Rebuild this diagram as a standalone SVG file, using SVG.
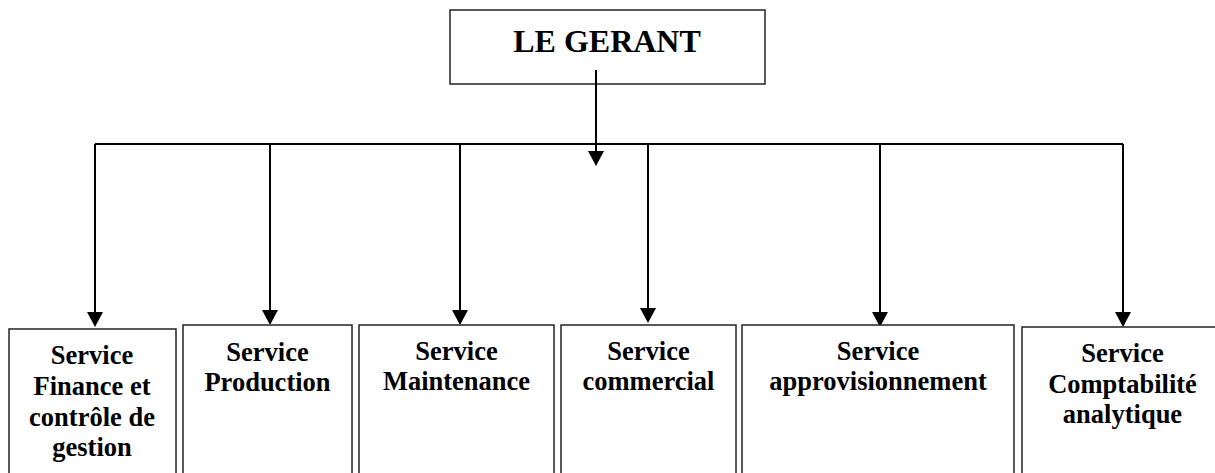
<svg xmlns="http://www.w3.org/2000/svg" width="1215" height="473" viewBox="0 0 1215 473">
<style>
.box{fill:#fff;stroke:#222;stroke-width:1.5}
.conn{fill:none;stroke:#000;stroke-width:2}
.t{font-family:"Liberation Serif","Times New Roman",serif;font-weight:bold;font-size:26.5px;fill:#000;text-anchor:middle}
.title{font-size:32px}
</style>
<defs>
<marker id="arr" markerUnits="userSpaceOnUse" viewBox="0 0 15 16" refX="0" refY="8" markerWidth="15" markerHeight="16" orient="auto">
<path d="M0,0 L15,8 L0,16 z" fill="#000"/>
</marker>
</defs>
<rect width="1215" height="473" fill="#fff"/>
<g id="gerant">
<rect class="box" x="450" y="10" width="315" height="74"/>
<text class="t title" x="607" y="52">LE GERANT</text>
</g>
<g id="connectors">
<path class="conn" d="M596,70 V151" marker-end="url(#arr)"/>
<path class="conn" d="M95,144 H1123"/>
<path class="conn" d="M95,144 V312" marker-end="url(#arr)"/>
<path class="conn" d="M270,144 V310" marker-end="url(#arr)"/>
<path class="conn" d="M460,144 V310" marker-end="url(#arr)"/>
<path class="conn" d="M648,144 V308" marker-end="url(#arr)"/>
<path class="conn" d="M880,144 V312" marker-end="url(#arr)"/>
<path class="conn" d="M1123,144 V312" marker-end="url(#arr)"/>
</g>
<g id="finance">
<rect class="box" x="9" y="329" width="167" height="160"/>
<text class="t" x="92" y="364">Service</text>
<text class="t" x="92" y="395">Finance et</text>
<text class="t" x="92" y="426">contrôle de</text>
<text class="t" x="92" y="456">gestion</text>
</g>
<g id="production">
<rect class="box" x="183" y="325" width="169" height="160"/>
<text class="t" x="267.5" y="361">Service</text>
<text class="t" x="267.5" y="391">Production</text>
</g>
<g id="maintenance">
<rect class="box" x="359" y="325" width="195" height="160"/>
<text class="t" x="456.5" y="360">Service</text>
<text class="t" x="456.5" y="390">Maintenance</text>
</g>
<g id="commercial">
<rect class="box" x="561" y="325" width="175" height="160"/>
<text class="t" x="648.5" y="360">Service</text>
<text class="t" x="648.5" y="390">commercial</text>
</g>
<g id="approvisionnement">
<rect class="box" x="742" y="325" width="272" height="160"/>
<text class="t" x="878" y="360">Service</text>
<text class="t" x="878" y="390">approvisionnement</text>
</g>
<g id="comptabilite">
<rect class="box" x="1022" y="327" width="202" height="160"/>
<text class="t" x="1122.5" y="362">Service</text>
<text class="t" x="1122.5" y="393">Comptabilité</text>
<text class="t" x="1122.5" y="423">analytique</text>
</g>
</svg>
